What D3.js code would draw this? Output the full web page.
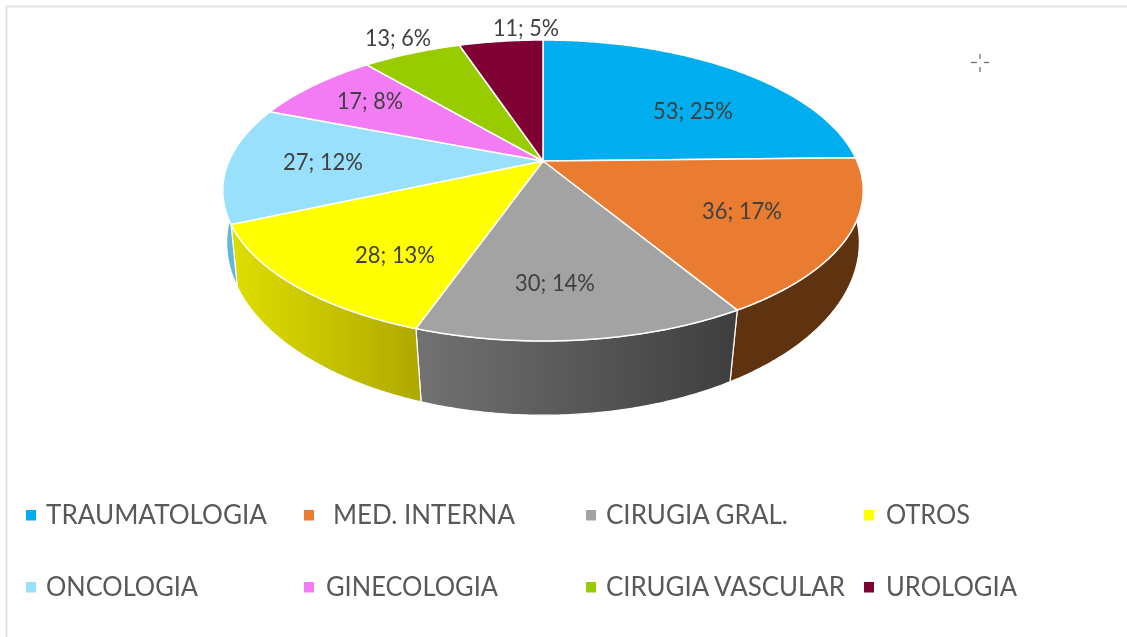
<!DOCTYPE html>
<html><head><meta charset="utf-8">
<script src="https://cdn.jsdelivr.net/npm/d3@7"></script>
<style>html,body{margin:0;padding:0;background:#fff}svg{display:block;filter:blur(0.4px)}</style>
</head><body><div id="chart"></div>
<script>
const categories = ["TRAUMATOLOGIA","MED. INTERNA","CIRUGIA GRAL.","OTROS","ONCOLOGIA","GINECOLOGIA","CIRUGIA VASCULAR","UROLOGIA"];
const values = [53,36,30,28,27,17,13,11];
const percents = [25,17,14,13,12,8,6,5];
const colors = ["#00ADEE","#E97C30","#A3A3A3","#FFFF00","#99E0FC","#F37BF3","#99CC00","#7F0033"];
const sideFrom = ["#00ADEE","#5F3210","#727272","#DEDE00","#62B6D8","#F37BF3","#99CC00","#7F0033"];
const sideTo   = ["#00ADEE","#5F3210","#3E3E3E","#AFA800","#62B6D8","#F37BF3","#99CC00","#7F0033"];

const W = 1127, H = 637;
// Layout of text (pixels)
const labelAt = [[693,110],[742,210],[555,282],[395,254],[323,161],[370,100],[398,37],[526,27]];
const legendX = [26,304,586,864];
const legendTextX = [46,326,606,886];
const legendY = [515.5,587.5];
const legendTextY = [514,586];
const legendWidth = [221,182,182,84,152,172,239,131];

const svg = d3.select("#chart").append("svg").attr("width",W).attr("height",H);
const defs = svg.append("defs");

// frame
svg.append("path").attr("d",`M6.5,${H}V6.5H${W}`).attr("fill","none").attr("stroke","#e3e3e3").attr("stroke-width",2);

// perspective disc: unit circle -> screen
const topDisc = {cx:543, cy:161, a:144.7, b:314, k:-0.196};
const botDisc = {cx:543, cy:214, a:168, b:312, k:-0.165};
function project(d, ang, r=1){
  const u = Math.sin(ang)*r, v = -Math.cos(ang)*r, w = 1 + d.k*v;
  const sx = d3.scaleLinear([-1,1],[d.cx-d.b,d.cx+d.b]);
  const sy = d3.scaleLinear([-1,1],[d.cy-d.a,d.cy+d.a]);
  return [sx(u/w), sy(v/w)];
}
const pieGen = d3.pie().sort(null).value(d=>d);
const arcs = pieGen(values);
const line = d3.line();
const samples = (a0,a1)=>{const n=Math.max(2,Math.ceil((a1-a0)/0.01));return d3.range(n+1).map(i=>a0+(a1-a0)*i/n);};

// sides, for the front part only
const side = svg.append("g");
arcs.forEach((s,i)=>{
  const a0 = Math.max(s.startAngle, Math.PI*0.35), a1 = Math.min(s.endAngle, Math.PI*1.65);
  if (a1 <= a0) return;
  const ts = samples(a0,a1);
  const pts = ts.map(t=>project(topDisc,t)).concat(ts.slice().reverse().map(t=>project(botDisc,t)));
  const xs = pts.map(p=>p[0]);
  const g = defs.append("linearGradient").attr("id","side"+i).attr("gradientUnits","userSpaceOnUse")
    .attr("x1",d3.min(xs)).attr("x2",d3.max(xs)).attr("y1",0).attr("y2",0);
  g.append("stop").attr("offset",0).attr("stop-color",sideFrom[i]);
  g.append("stop").attr("offset",1).attr("stop-color",sideTo[i]);
  side.append("path").attr("d",line(pts)+"Z").attr("fill",`url(#side${i})`)
    .attr("stroke","#fff").attr("stroke-width",1.2).attr("stroke-linejoin","round");
});

// top face
svg.append("g").selectAll("path").data(arcs).join("path")
  .attr("d",s=>line([[topDisc.cx,topDisc.cy]].concat(samples(s.startAngle,s.endAngle).map(t=>project(topDisc,t))))+"Z")
  .attr("fill",(s,i)=>colors[i]).attr("stroke","#fff").attr("stroke-width",1.5).attr("stroke-linejoin","round");

// data labels
svg.append("g").selectAll("text").data(arcs).join("text")
  .attr("x",(s,i)=>labelAt[i][0]).attr("y",(s,i)=>labelAt[i][1])
  .attr("text-anchor","middle").attr("dominant-baseline","central")
  .attr("font-family","Lato, 'Open Sans', sans-serif").attr("font-size",23).attr("fill","#404040")
  .attr("textLength",80).attr("lengthAdjust","spacingAndGlyphs")
  .each(function(s,i){ if(values[i]<20) d3.select(this).attr("textLength",66); })
  .text((s,i)=>`${values[i]}; ${percents[i]}%`);

// legend
const leg = svg.append("g");
categories.forEach((c,i)=>{
  const col = i%4, row = Math.floor(i/4);
  leg.append("rect").attr("x",legendX[col]).attr("y",legendY[row]-5.5).attr("width",10).attr("height",10.5).attr("fill",colors[i]);
  const extra = c==="MED. INTERNA" ? 7 : 0;
  leg.append("text").attr("x",legendTextX[col]+extra).attr("y",legendTextY[row])
    .attr("dominant-baseline","central")
    .attr("font-family","Lato, 'Open Sans', sans-serif").attr("font-size",26).attr("fill","#595959")
    .attr("textLength",legendWidth[i]).attr("lengthAdjust","spacingAndGlyphs").text(c);
});

// cursor mark
const cur = svg.append("g").attr("stroke","#666").attr("stroke-width",1.2);
[[971,62.5,977,62.5],[984,62.5,989,62.5],[980,54,980,59],[980,67,980,72]].forEach(l=>{
  cur.append("line").attr("x1",l[0]).attr("y1",l[1]).attr("x2",l[2]).attr("y2",l[3]);
});
</script></body></html>
